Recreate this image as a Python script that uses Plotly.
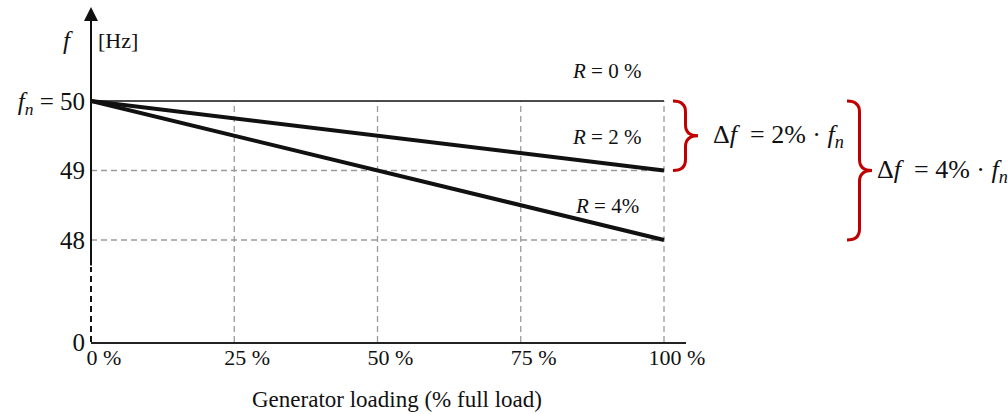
import plotly.graph_objects as go

# ---- data -------------------------------------------------------------
load_pct = [0, 100]                      # generator loading (% full load)
freq_r0 = [50, 50]                       # R = 0 %  (isochronous)
freq_r2 = [50, 49]                       # R = 2 %
freq_r4 = [50, 48]                       # R = 4 %
droop_labels = ["<i>R</i> = 0 %", "<i>R</i> = 2 %", "<i>R</i> = 4%"]

f_nominal = 50
x_tick_vals = [0, 25, 50, 75, 100]
x_tick_text = ["0 %", "25 %", "50 %", "75 %", "100 %"]
y_grid_vals = [49, 48]
y_tick_text = ["0", "48", "49", "<i>f</i><sub><i>n</i></sub> = 50"]
delta_labels = ["Δ<i>f</i>  = 2% · <i>f</i><sub><i>n</i></sub>",
                "Δ<i>f</i>  = 4% · <i>f</i><sub><i>n</i></sub>"]

# ---- geometry of the canvas --------------------------------------------
W, H = 1008, 414
ML, MR, MT, MB = 91, 0, 0, 72
PLOT_W = W - ML - MR
PLOT_H = H - MT - MB

PX_PER_PCT = 5.73          # horizontal scale
PX_PER_HZ = 69.5           # vertical scale
X_AXIS_END_PX = 686        # x axis line stops a little past 100 %

y_top = f_nominal + (101 - MT) / PX_PER_HZ
y_floor = f_nominal - (H - MB - 101) / PX_PER_HZ      # broken axis, shown as 0
y_break = f_nominal - (267 - 101) / PX_PER_HZ          # where the axis turns dashed
y_arrow_tip = f_nominal + (101 - 7) / PX_PER_HZ

x_domain_end = (X_AXIS_END_PX - ML) / PLOT_W
x_range_end = (X_AXIS_END_PX - ML) / PX_PER_PCT


def paper_x(px):
    return (px - ML) / PLOT_W


def paper_y(py):
    return (H - MB - py) / PLOT_H


SERIF = "Liberation Serif"
BLACK = "#111111"
GRID = "#9a9a9a"
RED = "#c00000"

fig = go.Figure()

for freq, width in [(freq_r0, 1.6), (freq_r2, 4), (freq_r4, 4)]:
    fig.add_trace(go.Scatter(
        x=load_pct, y=freq, mode="lines",
        line=dict(color=BLACK, width=width),
        showlegend=False, hoverinfo="skip",
    ))

shapes = []
# vertical dashed guides up to the nominal frequency
for v in x_tick_vals[1:]:
    shapes.append(dict(type="line", xref="x", yref="y", x0=v, x1=v,
                       y0=y_floor, y1=f_nominal, layer="below",
                       line=dict(color=GRID, width=1.3, dash="6px,4px")))
# horizontal dashed guides at 49 and 48 Hz
for v in y_grid_vals:
    shapes.append(dict(type="line", xref="x", yref="y", x0=0, x1=load_pct[-1],
                       y0=v, y1=v, layer="below",
                       line=dict(color=GRID, width=1.3, dash="6px,4px")))
# dashed lower part of the frequency axis (axis break)
shapes.append(dict(type="line", xref="paper", yref="y", x0=0, x1=0,
                   y0=y_floor, y1=y_break,
                   line=dict(color=BLACK, width=2, dash="6px,4px")))


def brace(px0, px1, y_hi, y_lo, curl_px):
    """Right-facing curly brace between two frequencies."""
    x0, x1 = paper_x(px0), paper_x(px1)
    xm = (x0 + x1) / 2
    ym = (y_hi + y_lo) / 2
    c = curl_px / PX_PER_HZ
    return (f"M {x0},{y_hi} Q {xm},{y_hi} {xm},{y_hi - c} "
            f"L {xm},{ym + c} Q {xm},{ym} {x1},{ym} "
            f"Q {xm},{ym} {xm},{ym - c} "
            f"L {xm},{y_lo + c} Q {xm},{y_lo} {x0},{y_lo}")


shapes.append(dict(type="path", xref="paper", yref="y",
                   path=brace(673, 698, f_nominal, freq_r2[-1], 11),
                   line=dict(color=RED, width=3)))
shapes.append(dict(type="path", xref="paper", yref="y",
                   path=brace(847, 872, f_nominal, freq_r4[-1], 11),
                   line=dict(color=RED, width=3)))

annotations = [
    # solid upper part of the frequency axis with arrow head
    dict(x=0, y=y_arrow_tip, ax=0, ay=y_break, xref="x", yref="y",
         axref="x", ayref="y", text="", showarrow=True,
         arrowhead=2, arrowsize=1.4, arrowwidth=2, arrowcolor=BLACK, standoff=0),
    dict(x=paper_x(68), y=paper_y(41), xref="paper", yref="paper",
         xanchor="center", yanchor="middle",
         text="<i>f</i>", showarrow=False, font=dict(family=SERIF, size=25, color=BLACK)),
    dict(x=paper_x(96), y=paper_y(41), xref="paper", yref="paper",
         xanchor="left", yanchor="middle",
         text="[Hz]", showarrow=False, font=dict(family=SERIF, size=22, color=BLACK)),
    dict(x=paper_x(397), y=paper_y(399), xref="paper", yref="paper",
         xanchor="center", yanchor="middle",
         text="Generator loading (% full load)", showarrow=False,
         font=dict(family=SERIF, size=23, color=BLACK)),
]

# droop labels above their lines
for label, freq, dy_px in zip(droop_labels, [freq_r0, freq_r2, freq_r4], [16, 13, 6]):
    annotations.append(dict(
        x=90, y=freq[0] + (freq[-1] - freq[0]) * 0.9 + dy_px / PX_PER_HZ,
        xref="x", yref="y", text=label, showarrow=False,
        xanchor="center", yanchor="bottom",
        font=dict(family=SERIF, size=21, color=BLACK)))

# frequency deviation labels next to the braces
for label, f_end, px in zip(delta_labels, [freq_r2[-1], freq_r4[-1]], [711, 875]):
    annotations.append(dict(
        x=paper_x(px), y=(f_nominal + f_end) / 2, xref="paper", yref="y",
        text=label, showarrow=False, xanchor="left", yanchor="middle",
        font=dict(family=SERIF, size=26, color=BLACK)))

fig.update_layout(
    template="none",
    width=W, height=H, autosize=False,
    margin=dict(l=ML, r=MR, t=MT, b=MB, pad=0),
    plot_bgcolor="white", paper_bgcolor="white",
    font=dict(family=SERIF, color=BLACK),
    shapes=shapes, annotations=annotations,
    xaxis=dict(domain=[0, x_domain_end], range=[0, x_range_end],
               showgrid=False, zeroline=False, automargin=False,
               showline=True, linecolor="#222222", linewidth=2,
               tickvals=x_tick_vals, ticktext=x_tick_text, ticks="",
               ticklabelshift=13, ticklabelstandoff=-5,
               tickfont=dict(family=SERIF, size=22, color=BLACK)),
    yaxis=dict(range=[y_floor, y_top], showgrid=False, zeroline=False,
               showline=False, automargin=False,
               tickvals=[y_floor, 48, 49, f_nominal], ticktext=y_tick_text,
               ticks="", ticklabelstandoff=5,
               tickfont=dict(family=SERIF, size=25, color=BLACK)),
)

fig.write_html("out.html")
